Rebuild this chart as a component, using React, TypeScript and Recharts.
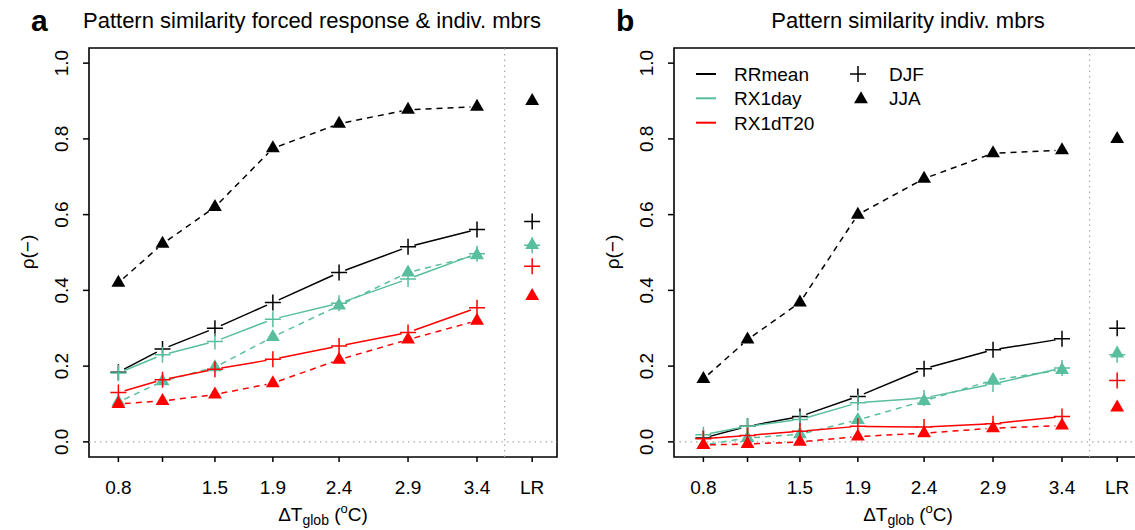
import React from 'react';
import { ComposedChart, Line, XAxis, YAxis, ReferenceLine, ReferenceArea, Legend } from 'recharts';

const FONT = '"Liberation Sans", Arial, Helvetica, sans-serif';
const BLACK = '#000000';
const GREEN = '#58BE9E';
const RED = '#FF0000';

// x positions of the warming levels (global warming, °C) and the LR column
const warmingLevels = [0.8, 1.12, 1.5, 1.92, 2.4, 2.9, 3.4];
const lrPosition = 3.8;
const separatorX = 3.6;
const xTickValues = [0.8, 1.12, 1.5, 1.92, 2.4, 2.9, 3.4, 3.8];
const xTickLabels = ['0.8', '', '1.5', '1.9', '2.4', '2.9', '3.4', 'LR'];
const yTickValues = [0, 0.2, 0.4, 0.6, 0.8, 1.0];
const xDomain = [0.587, 3.98];
const yDomain = [-0.04, 1.04];

// Panel a: forced response & individual members
const aRRmeanDJF = [0.184, 0.245, 0.3, 0.368, 0.447, 0.515, 0.561];
const aRRmeanDJF_LR = 0.582;
const aRRmeanJJA = [0.42, 0.523, 0.62, 0.775, 0.84, 0.877, 0.885];
const aRRmeanJJA_LR = 0.9;
const aRX1dayDJF = [0.182, 0.23, 0.265, 0.324, 0.366, 0.43, 0.497];
const aRX1dayDJF_LR = 0.519;
const aRX1dayJJA = [0.105, 0.16, 0.197, 0.277, 0.36, 0.447, 0.493];
const aRX1dayJJA_LR = 0.52;
const aRX1dT20DJF = [0.13, 0.164, 0.192, 0.218, 0.253, 0.289, 0.354];
const aRX1dT20DJF_LR = 0.464;
const aRX1dT20JJA = [0.1, 0.108, 0.125, 0.155, 0.217, 0.27, 0.32];
const aRX1dT20JJA_LR = 0.385;

// Panel b: individual members
const bRRmeanDJF = [0.01, 0.041, 0.067, 0.12, 0.193, 0.243, 0.272];
const bRRmeanDJF_LR = 0.3;
const bRRmeanJJA = [0.166, 0.27, 0.368, 0.6, 0.695, 0.762, 0.77];
const bRRmeanJJA_LR = 0.8;
const bRX1dayDJF = [0.019, 0.041, 0.059, 0.103, 0.116, 0.153, 0.195];
const bRX1dayDJF_LR = 0.23;
const bRX1dayJJA = [-0.008, 0.01, 0.02, 0.058, 0.108, 0.163, 0.19];
const bRX1dayJJA_LR = 0.233;
const bRX1dT20DJF = [0.008, 0.017, 0.028, 0.041, 0.039, 0.048, 0.067];
const bRX1dT20DJF_LR = 0.162;
const bRX1dT20JJA = [-0.008, -0.006, 0.0, 0.014, 0.023, 0.036, 0.043];
const bRX1dT20JJA_LR = 0.091;

const legendIndices = ['RRmean', 'RX1day', 'RX1dT20'];
const legendColors = [BLACK, GREEN, RED];
const legendSeasons = ['DJF', 'JJA'];

type Series = { values: number[]; lr: number; color: string; shape: 'plus' | 'tri'; dashed: boolean; name: string };

const panelASeries: Series[] = [
  { name: 'RRmean DJF', values: aRRmeanDJF, lr: aRRmeanDJF_LR, color: BLACK, shape: 'plus', dashed: false },
  { name: 'RRmean JJA', values: aRRmeanJJA, lr: aRRmeanJJA_LR, color: BLACK, shape: 'tri', dashed: true },
  { name: 'RX1day DJF', values: aRX1dayDJF, lr: aRX1dayDJF_LR, color: GREEN, shape: 'plus', dashed: false },
  { name: 'RX1day JJA', values: aRX1dayJJA, lr: aRX1dayJJA_LR, color: GREEN, shape: 'tri', dashed: true },
  { name: 'RX1dT20 DJF', values: aRX1dT20DJF, lr: aRX1dT20DJF_LR, color: RED, shape: 'plus', dashed: false },
  { name: 'RX1dT20 JJA', values: aRX1dT20JJA, lr: aRX1dT20JJA_LR, color: RED, shape: 'tri', dashed: true },
];
const panelBSeries: Series[] = [
  { name: 'RRmean DJF', values: bRRmeanDJF, lr: bRRmeanDJF_LR, color: BLACK, shape: 'plus', dashed: false },
  { name: 'RRmean JJA', values: bRRmeanJJA, lr: bRRmeanJJA_LR, color: BLACK, shape: 'tri', dashed: true },
  { name: 'RX1day DJF', values: bRX1dayDJF, lr: bRX1dayDJF_LR, color: GREEN, shape: 'plus', dashed: false },
  { name: 'RX1day JJA', values: bRX1dayJJA, lr: bRX1dayJJA_LR, color: GREEN, shape: 'tri', dashed: true },
  { name: 'RX1dT20 DJF', values: bRX1dT20DJF, lr: bRX1dT20DJF_LR, color: RED, shape: 'plus', dashed: false },
  { name: 'RX1dT20 JJA', values: bRX1dT20JJA, lr: bRX1dT20JJA_LR, color: RED, shape: 'tri', dashed: true },
];

const GAP = 6.5;
const PLUS = 8;
const TRI = 8;

function markerPath(shape: 'plus' | 'tri', cx: number, cy: number) {
  if (shape === 'plus') {
    return `M${cx - PLUS},${cy}H${cx + PLUS}M${cx},${cy - PLUS}V${cy + PLUS}`;
  }
  const hx = TRI * 0.866;
  return `M${cx},${cy - TRI}L${cx + hx},${cy + TRI / 2}L${cx - hx},${cy + TRI / 2}Z`;
}

function makeDot(s: Series) {
  const nLinked = s.values.length;
  return (props: any) => {
    const { cx, cy, index, points } = props;
    if (cx == null || cy == null) return <g key={`e-${index}`} />;
    let seg: any = null;
    if (points && index < nLinked - 1 && points[index + 1]) {
      const p2 = points[index + 1];
      const dx = p2.x - cx;
      const dy = p2.y - cy;
      const len = Math.hypot(dx, dy);
      if (len > 2 * GAP) {
        const ux = dx / len;
        const uy = dy / len;
        seg = (
          <line
            x1={cx + ux * GAP}
            y1={cy + uy * GAP}
            x2={p2.x - ux * GAP}
            y2={p2.y - uy * GAP}
            stroke={s.color}
            strokeWidth={1.5}
            strokeDasharray={s.dashed ? '6 5' : undefined}
          />
        );
      }
    }
    const d = markerPath(s.shape, cx, cy);
    return (
      <g key={`d-${index}`}>
        {seg}
        {s.shape === 'plus' ? (
          <path d={d} stroke={s.color} strokeWidth={1.5} fill="none" />
        ) : (
          <path d={d} fill={s.color} stroke="none" />
        )}
      </g>
    );
  };
}

const YTick = (props: any) => {
  const { x, y, payload } = props;
  return (
    <text
      x={x}
      y={y}
      transform={`rotate(-90 ${x} ${y})`}
      textAnchor="middle"
      fontSize={19}
      fontFamily={FONT}
      fill="#000"
    >
      {Number(payload.value).toFixed(1)}
    </text>
  );
};

const XLabel = (props: any) => {
  const vb = props.viewBox || { x: 89, y: 457, width: 468, height: 60 };
  const cx = vb.x + vb.width / 2;
  const by = vb.y + 64;
  return (
    <text x={cx} y={by} textAnchor="middle" fontSize={19} fontFamily={FONT} fill="#000">
      <tspan>ΔT</tspan>
      <tspan fontSize={14} dy={4}>glob</tspan>
      <tspan dy={-4}> (</tspan>
      <tspan fontSize={13} dy={-8}>o</tspan>
      <tspan dy={8}>C)</tspan>
    </text>
  );
};

const YLabel = () => {
  const x = 34;
  const y = 252;
  return (
    <text x={x} y={y} transform={`rotate(-90 ${x} ${y})`} textAnchor="middle" fontSize={19} fontFamily={FONT} fill="#000">
      ρ(−)
    </text>
  );
};

const LegendContent = () => {
  const rows = [74, 98.3, 122.7];
  return (
    <svg width={400} height={150} style={{ display: 'block' }}>
      {legendIndices.map((name, i) => (
        <g key={name}>
          <line x1={111} x2={131} y1={rows[i]} y2={rows[i]} stroke={legendColors[i]} strokeWidth={2} />
          <text x={149} y={rows[i] + 6.8} fontSize={19} fontFamily={FONT} fill="#000">
            {name}
          </text>
        </g>
      ))}
      <path d={markerPath('plus', 273, rows[0])} stroke="#000" strokeWidth={1.5} fill="none" />
      <text x={304} y={rows[0] + 6.8} fontSize={19} fontFamily={FONT} fill="#000">
        {legendSeasons[0]}
      </text>
      <path d={markerPath('tri', 276, rows[1] + 1)} fill="#000" />
      <text x={304} y={rows[1] + 6.8} fontSize={19} fontFamily={FONT} fill="#000">
        {legendSeasons[1]}
      </text>
    </svg>
  );
};

function buildData(s: Series) {
  const d = s.values.map((v, i) => ({ x: warmingLevels[i], y: v }));
  d.push({ x: lrPosition, y: s.lr });
  return d;
}

const Panel = ({ series, showLegend }: { series: Series[]; showLegend: boolean }) => (
  <ComposedChart width={585} height={530} margin={{ top: 48, right: 28, bottom: 13, left: 0 }}>
    <XAxis
      dataKey="x"
      type="number"
      domain={xDomain}
      allowDataOverflow
      ticks={xTickValues}
      interval={0}
      tickFormatter={(v: number, i: number) => xTickLabels[i] ?? ''}
      tickSize={5}
      tickMargin={19}
      tickLine={{ stroke: '#000', strokeWidth: 1.5 }}
      axisLine={false}
      height={60}
      tick={{ fontSize: 19, fill: '#000', fontFamily: FONT }}
      label={{ content: XLabel }}
    />
    <YAxis
      type="number"
      domain={yDomain}
      allowDataOverflow
      ticks={yTickValues}
      interval={0}
      width={89}
      tickSize={6}
      tickMargin={15}
      tickLine={{ stroke: '#000', strokeWidth: 1.5 }}
      axisLine={false}
      tick={<YTick />}
      label={{ content: YLabel }}
    />
    <ReferenceLine y={0} stroke="#AAAAAA" strokeWidth={1.2} strokeDasharray="1.5 4" ifOverflow="visible" />
    <ReferenceLine x={separatorX} stroke="#AAAAAA" strokeWidth={1.2} strokeDasharray="1.5 4" ifOverflow="visible" />
    <ReferenceArea
      x1={xDomain[0]}
      x2={xDomain[1]}
      y1={yDomain[0]}
      y2={yDomain[1]}
      fill="none"
      fillOpacity={0}
      stroke="#000"
      strokeWidth={1.6}
      ifOverflow="visible"
    />
    {series.map((s) => (
      <Line
        key={s.name}
        data={buildData(s)}
        dataKey="y"
        type="linear"
        stroke="none"
        strokeWidth={0}
        dot={makeDot(s)}
        activeDot={false}
        isAnimationActive={false}
        legendType="none"
      />
    ))}
    {showLegend && (
      <Legend
        verticalAlign="middle"
        align="center"
        layout="horizontal"
        content={<LegendContent />}
        wrapperStyle={{ position: 'absolute', left: 0, top: 0, width: 400, height: 150 }}
      />
    )}
  </ComposedChart>
);

export default function App() {
  return (
    <div
      style={{
        position: 'fixed',
        left: 0,
        top: 0,
        width: 1135,
        height: 530,
        overflow: 'hidden',
        background: '#fff',
        fontFamily: FONT,
      }}
    >
      <div style={{ position: 'absolute', left: 0, top: 0 }}>
        <Panel series={panelASeries} showLegend={false} />
      </div>
      <div style={{ position: 'absolute', left: 585, top: 0 }}>
        <Panel series={panelBSeries} showLegend={true} />
      </div>
      <svg width={1135} height={45} style={{ position: 'absolute', left: 0, top: 0, pointerEvents: 'none' }}>
        <text x={31} y={31} fontSize={30} fontWeight="bold" fontFamily={FONT} fill="#000">a</text>
        <text x={83} y={28} fontSize={22} fontFamily={FONT} fill="#000">
          Pattern similarity forced response &amp; indiv. mbrs
        </text>
        <text x={616} y={31} fontSize={30} fontWeight="bold" fontFamily={FONT} fill="#000">b</text>
        <text x={908} y={28} fontSize={22} fontFamily={FONT} fill="#000" textAnchor="middle">
          Pattern similarity indiv. mbrs
        </text>
      </svg>
    </div>
  );
}
